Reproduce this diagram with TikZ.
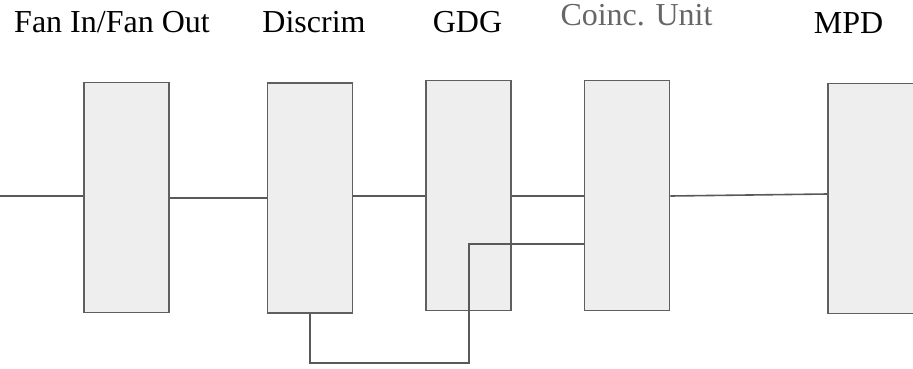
\documentclass[tikz,border=0pt]{standalone}
\usepackage{fontspec}
\setmainfont{Liberation Serif}
\definecolor{boxfill}{HTML}{EEEEEE}
\definecolor{boxline}{HTML}{5F5F5F}
\definecolor{wire}{HTML}{595959}
\definecolor{greytext}{HTML}{666666}
\begin{document}
\begin{tikzpicture}[x=1pt,y=-1pt,
  unit/.style={draw=boxline,fill=boxfill,line width=1.8pt,minimum width=85pt,minimum height=230pt,inner sep=0pt},
  lbl/.style={anchor=base,inner sep=0pt,font=\fontsize{32}{36}\selectfont},
  wireline/.style={draw=wire,line width=1.6pt}]
\useasboundingbox (0,0) rectangle (913,368);
% boxes
\node[unit] (fan) at (126.5,197.5) {};
\node[unit] (disc) at (310,198) {};
\node[unit] (gdg) at (468.5,195.5) {};
\node[unit] (coinc) at (627,195.5) {};
\node[unit,minimum width=86pt] (mpd) at (871,198.5) {};
% labels
\node[lbl] (tfan) at (112,32) {Fan In/Fan Out};
\node[lbl] (tdisc) at (314,32) {Discrim};
\node[lbl] (tgdg) at (467.5,32) {GDG};
\node[lbl,text=greytext] (tcoinc) at (636.5,25) {Coinc. Unit};
\node[lbl] (tmpd) at (848.5,33) {MPD};
% connectors
\coordinate (in) at (0,196);
\coordinate (fb1) at (469,363);
\coordinate (fb2) at (469,244);
\draw[wireline] (in) -- (fan.west |- in);
\draw[wireline] (fan.east |- 0,198) -- (disc.west |- 0,198);
\draw[wireline] (disc.east |- 0,196) -- (gdg.west |- 0,196);
\draw[wireline] (gdg.east |- 0,196) -- (coinc.west |- 0,196);
\draw[wireline] (coinc.east |- 0,196) -- (mpd.west |- 0,194);
\draw[wireline] (disc.south) |- (fb1) -- (fb2) -- (coinc.west |- fb2);
\end{tikzpicture}
\end{document}
